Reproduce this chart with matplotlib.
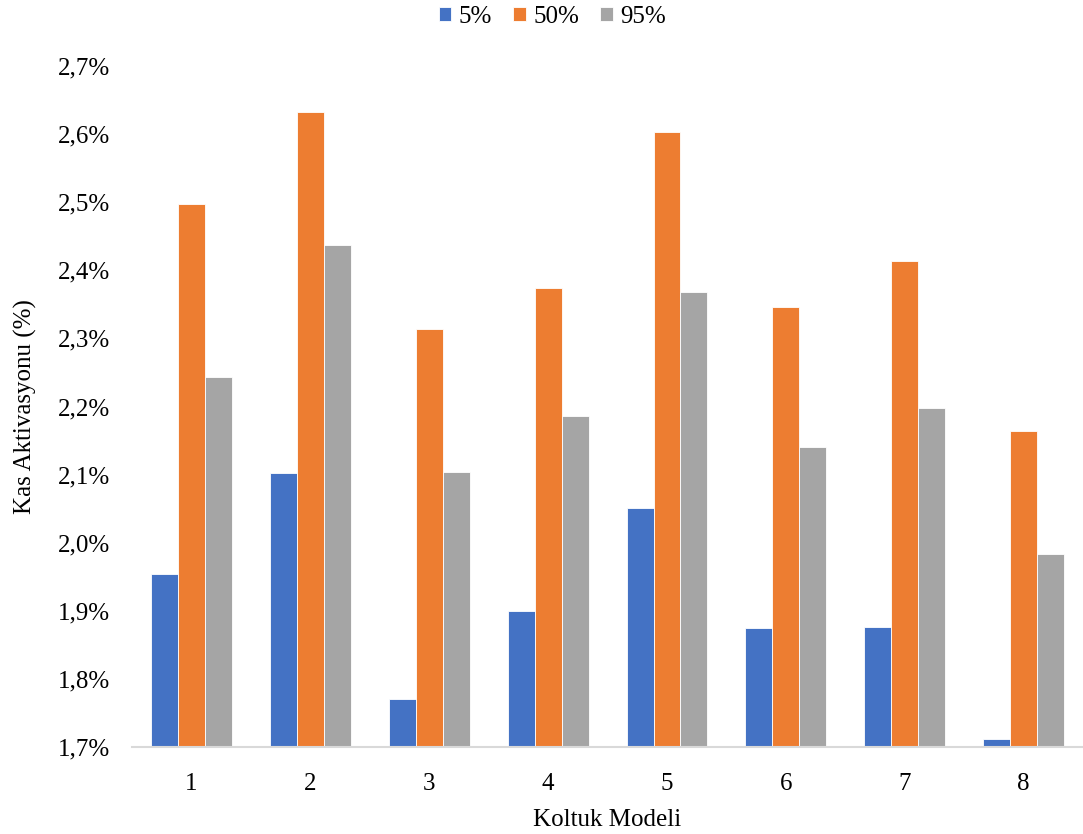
import numpy as np
import matplotlib.pyplot as plt
from matplotlib.ticker import FuncFormatter

plt.rcParams['font.family'] = ['Liberation Serif', 'DejaVu Serif']

models = ['1', '2', '3', '4', '5', '6', '7', '8']
p5 = [1.954, 2.102, 1.771, 1.900, 2.051, 1.875, 1.876, 1.712]
p50 = [2.497, 2.632, 2.314, 2.374, 2.603, 2.346, 2.414, 2.164]
p95 = [2.243, 2.437, 2.104, 2.186, 2.368, 2.141, 2.198, 1.983]

series = [('5%', p5, '#4472C4'), ('50%', p50, '#ED7D31'), ('95%', p95, '#A5A5A5')]

fig = plt.figure(figsize=(10.83, 8.34), dpi=100)
ax = fig.add_axes([0.122, 0.1043, 0.878, 0.8166])

x = np.arange(len(models))
w = 0.227
for i, (name, vals, col) in enumerate(series):
    ax.bar(x + (i - 1) * w, np.array(vals) - 1.7, w, bottom=1.7, color=col,
           edgecolor='white', linewidth=0.6, label=name, zorder=2)

ax.set_xlim(-0.5, len(models) - 0.5)
ax.set_ylim(1.7, 2.7)
ax.set_yticks(np.arange(1.7, 2.71, 0.1))
ax.yaxis.set_major_formatter(FuncFormatter(lambda v, p: f'{v:.1f}%'.replace('.', ',')))
ax.set_xticks(x)
ax.set_xticklabels(models)
ax.tick_params(axis='both', length=0, labelsize=18)
ax.tick_params(axis='y', pad=16)
ax.tick_params(axis='x', pad=19)

for s in ['top', 'right', 'left']:
    ax.spines[s].set_visible(False)
ax.spines['bottom'].set_color('#D9D9D9')
ax.spines['bottom'].set_linewidth(1.5)

ax.set_xlabel('Koltuk Modeli', fontsize=18, labelpad=10)
ax.set_ylabel('Kas Aktivasyonu (%)', fontsize=18, labelpad=15)

fig.legend(loc='upper center', bbox_to_anchor=(0.51, 1.02), ncol=3, frameon=False,
           fontsize=18, handlelength=0.5, handleheight=0.5, handletextpad=0.3,
           columnspacing=0.85)

fig.savefig('out.png', dpi=100)
